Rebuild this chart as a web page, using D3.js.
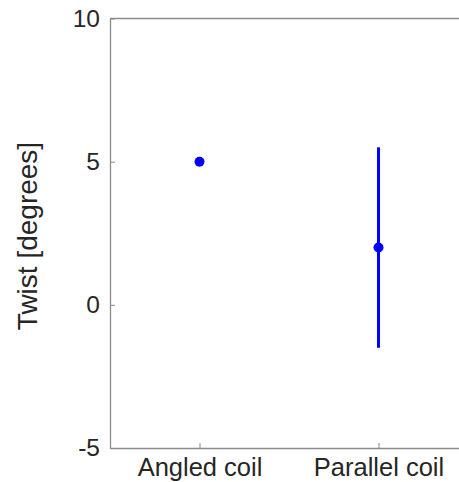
<!DOCTYPE html>
<html>
<head>
<meta charset="utf-8">
<script src="https://cdn.jsdelivr.net/npm/d3@7"></script>
<style>
body { margin: 0; background: #fff; }
text { font-family: "Liberation Sans", Arial, sans-serif; fill: #262626; }
</style>
</head>
<body>
<svg></svg>
<script>
const width = 459;
const height = 482;

// data
const categories = ['Angled coil', 'Parallel coil'];
const means = [5, 2];
const errors = [0, 3.5];
const yTicks = [-5, 0, 5, 10];

const svg = d3.select('svg').attr('width', width).attr('height', height);

const padLeft = 110, padTop = 18.5, axisBottomY = 448;

//Setting up scales
var xScale = d3.scaleLinear().domain([0.5, 2.5]).range([padLeft, padLeft + 2 * 179]);
var yScale = d3.scaleLinear().domain([-5, 10]).range([axisBottomY, padTop]);

//Axes, matlab-ish ticks inside
var xAxis = d3.axisBottom(xScale).tickValues([1, 2])
              .tickFormat((d, i) => categories[i])
              .tickSize(-5).tickSizeOuter(0).tickPadding(10);
var yAxis = d3.axisLeft(yScale).tickValues(yTicks)
              .tickFormat(d => d < 0 ? '-' + Math.abs(d) : d)
              .tickSize(-5).tickSizeOuter(0).tickPadding(10);

var gx = svg.append('g').attr('transform', `translate(0, ${axisBottomY})`).call(xAxis);
var gy = svg.append('g').attr('transform', `translate(${padLeft}, 0)`).call(yAxis);

[gx, gy].forEach(g => {
    g.select('.domain').attr('stroke', '#8c8c8c').attr('stroke-width', 1.3);
    g.selectAll('.tick line').attr('stroke', '#8c8c8c');
    g.selectAll('.tick text').attr('fill', '#262626');
});
gx.selectAll('.tick text').style('font-size', '25.5px');
gy.selectAll('.tick text').style('font-size', '24.5px');

//top box line
svg.append('line')
   .attr('x1', padLeft).attr('x2', width)
   .attr('y1', padTop).attr('y2', padTop)
   .attr('stroke', '#8c8c8c').attr('stroke-width', 1.3);

//y label
svg.append('text').attr('transform', 'rotate(-90)')
   .attr('x', -236)
   .attr('y', 37)
   .style('text-anchor', 'middle')
   .style('font-size', '28px')
   .text('Twist [degrees]');

//error bars
svg.selectAll('.err')
   .data(means.map((m, i) => ({ x: i + 1, m: m, e: errors[i] })).filter(d => d.e > 0))
   .enter()
   .append('line')
   .attr('x1', d => xScale(d.x)).attr('x2', d => xScale(d.x))
   .attr('y1', d => yScale(d.m + d.e)).attr('y2', d => yScale(d.m - d.e))
   .attr('stroke', '#0000ff').attr('stroke-width', 3);

svg.selectAll('circle')
   .data(means)
   .enter()
   .append('circle')
   .attr('cx', (d, i) => xScale(i + 1))
   .attr('cy', d => yScale(d))
   .attr('r', 5)
   .attr('fill', '#0000ff');
</script>
</body>
</html>
